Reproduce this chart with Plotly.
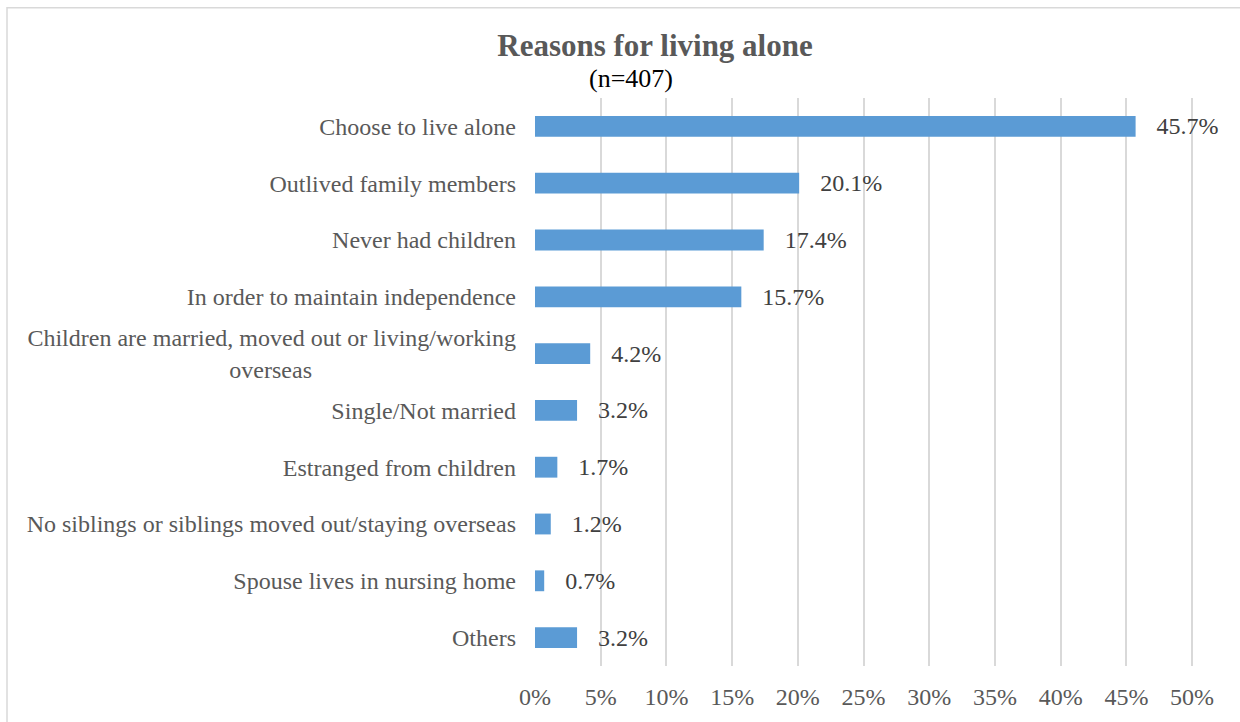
import plotly.graph_objects as go

# Survey results: reasons respondents gave for living alone (n=407)
reasons = [
    "Choose to live alone",
    "Outlived family members",
    "Never had children",
    "In order to maintain independence",
    "Children are married, moved out or living/working<br>overseas" + "\u00a0" * 34,
    "Single/Not married",
    "Estranged from children",
    "No siblings or siblings moved out/staying overseas",
    "Spouse lives in nursing home",
    "Others",
]
shares = [45.7, 20.1, 17.4, 15.7, 4.2, 3.2, 1.7, 1.2, 0.7, 3.2]
x_ticks = [0, 5, 10, 15, 20, 25, 30, 35, 40, 45, 50]
x_tick_labels = [f"{v}%" for v in x_ticks]

SERIF = "Liberation Serif"
W, H = 1240, 722
ML, MR, MT, MB = 535, 40, 98, 52
PW, PH = W - ML - MR, H - MT - MB


def px_x(px):
    return (px - ML) / PW


def px_y(py):
    return 1 - (py - MT) / PH


fig = go.Figure(
    go.Bar(
        x=shares,
        y=reasons,
        orientation="h",
        marker=dict(color="#5B9BD5", line=dict(width=0)),
        text=[f"\u00a0\u00a0\u00a0{v:.1f}%" for v in shares],
        textposition="outside",
        constraintext="none",
        textfont=dict(family=SERIF, size=24, color="#404040"),
        cliponaxis=False,
        hoverinfo="skip",
    )
)

fig.update_layout(
    width=W,
    height=H,
    margin=dict(l=ML, r=MR, t=MT, b=MB),
    paper_bgcolor="white",
    plot_bgcolor="white",
    showlegend=False,
    bargap=0.633,
    font=dict(family=SERIF, size=24, color="#595959"),
    title=dict(
        text="<b>Reasons for living alone</b>",
        font=dict(family=SERIF, size=31, color="#595959"),
        x=655 / W,
        xref="container",
        xanchor="center",
        y=1 - 45 / H,
        yref="container",
        yanchor="middle",
    ),
    xaxis=dict(
        range=[0, 50.6],
        tickvals=x_ticks,
        ticktext=x_tick_labels,
        showgrid=True,
        gridcolor="#D9D9D9",
        gridwidth=1.5,
        zeroline=False,
        showline=False,
        ticks="",
        ticklabelstandoff=14,
        tickfont=dict(family=SERIF, size=24, color="#595959"),
        fixedrange=True,
    ),
    yaxis=dict(
        categoryorder="array",
        categoryarray=reasons,
        autorange="reversed",
        showgrid=False,
        zeroline=False,
        showline=False,
        ticks="",
        ticklabelstandoff=18,
        tickfont=dict(family=SERIF, size=24, color="#595959"),
        fixedrange=True,
    ),
    annotations=[
        dict(
            text="(n=407)",
            x=px_x(631),
            y=px_y(78),
            xref="paper",
            yref="paper",
            xanchor="center",
            yanchor="middle",
            showarrow=False,
            font=dict(family=SERIF, size=26, color="#000000"),
        )
    ],
    shapes=[
        # light chart-area frame
        dict(
            type="rect",
            xref="paper",
            yref="paper",
            x0=px_x(7),
            x1=px_x(1300),
            y0=px_y(760),
            y1=px_y(7),
            line=dict(color="#D9D9D9", width=1.5),
            fillcolor="rgba(0,0,0,0)",
            layer="below",
        )
    ],
)

fig.write_html("out.html")
